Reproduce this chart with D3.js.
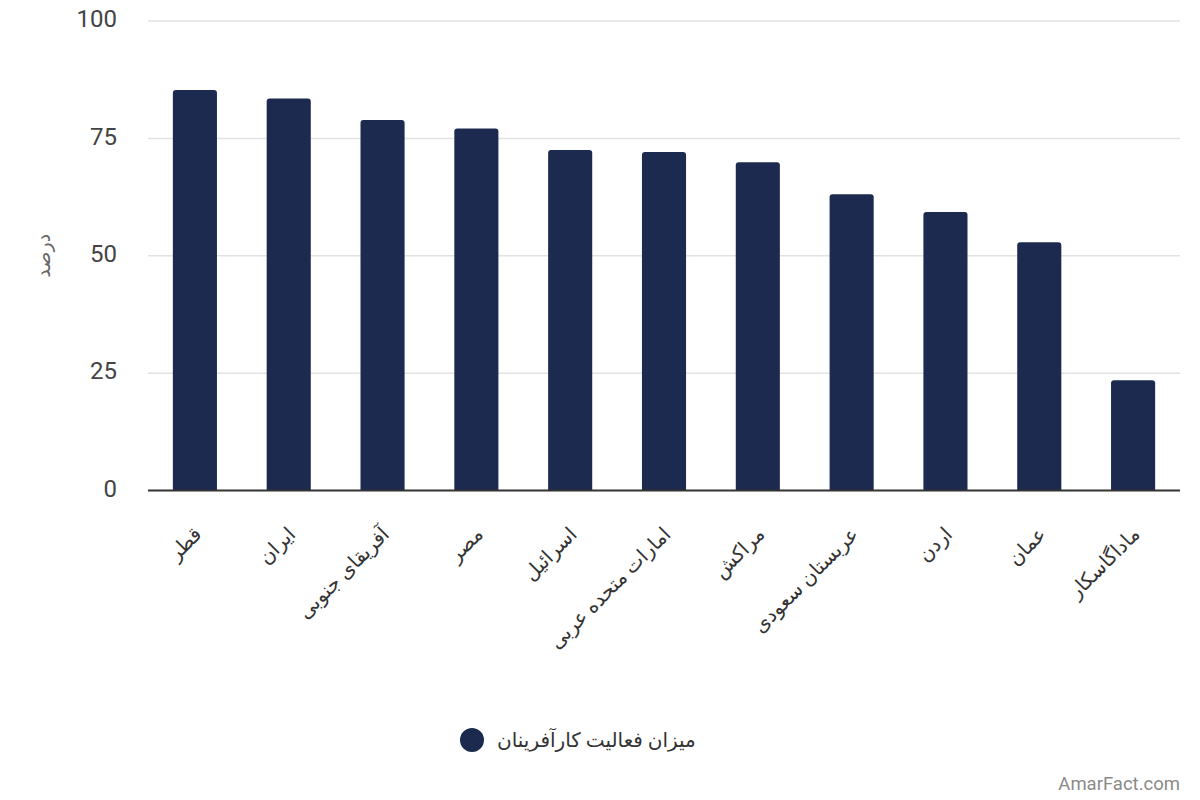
<!DOCTYPE html>
<html>
<head>
<meta charset="utf-8">
<script src="https://cdn.jsdelivr.net/npm/d3@7"></script>
<style>
  body { margin: 0; background: #fff; }
  svg text { font-family: Roboto, "DejaVu Sans", sans-serif; }
</style>
</head>
<body>
<div id="chart"></div>
<script>
// countries and entrepreneurial activity rate (%)
const countries = ["قطر", "ایران", "آفریقای جنوبی", "مصر", "اسرائیل", "امارات متحده عربی", "مراکش", "عربستان سعودی", "اردن", "عمان", "ماداگاسکار"];
const activity = [85.3, 83.5, 78.9, 77.1, 72.5, 72.1, 69.9, 63.1, 59.3, 52.9, 23.5];
const yTicks = [0, 25, 50, 75, 100];
const seriesName = "میزان فعالیت کارآفرینان";
const barColor = "#1b2a4e";

function drawChart() {
    const width = 1200, height = 800;
    const margin = { top: 21, right: 20, bottom: 310, left: 148 };

    const svg = d3.select("#chart").append("svg")
        .attr("width", width)
        .attr("height", height);

    const x = d3.scaleBand()
        .domain(countries)
        .range([margin.left, width - margin.right])
        .paddingInner(0.53)
        .paddingOuter(0.265);

    const y = d3.scaleLinear()
        .domain([0, 100])
        .range([height - margin.bottom + 0.5, margin.top]);

    // gridlines
    svg.append("g")
        .selectAll("line")
        .data(yTicks.filter(t => t > 0))
        .join("line")
        .attr("x1", margin.left)
        .attr("x2", width - margin.right)
        .attr("y1", d => y(d))
        .attr("y2", d => y(d))
        .attr("stroke", "#e2e2e2")
        .attr("stroke-width", 1.5);

    // y tick labels
    const yAxis = svg.append("g")
        .attr("transform", `translate(${margin.left - 31},-2)`)
        .call(d3.axisLeft(y).tickValues(yTicks).tickSize(0).tickPadding(0));
    yAxis.select(".domain").remove();
    yAxis.selectAll("text")
        .attr("font-size", 24)
        .attr("fill", "#444")
        .attr("font-family", "Roboto, sans-serif");

    // y axis title
    svg.append("text")
        .attr("transform", `translate(50,${(y(0) + y(100)) / 2}) rotate(-90)`)
        .attr("text-anchor", "middle")
        .attr("font-size", 19)
        .attr("fill", "#666")
        .text("درصد");

    // bars with rounded tops
    const r = 3;
    svg.append("g")
        .selectAll("path")
        .data(countries.map((c, i) => ({ c, v: activity[i] })))
        .join("path")
        .attr("fill", barColor)
        .attr("d", d => {
            const x0 = x(d.c), w = x.bandwidth();
            const y0 = y(d.v), y1 = y(0);
            return `M${x0},${y1}V${y0 + r}Q${x0},${y0} ${x0 + r},${y0}H${x0 + w - r}Q${x0 + w},${y0} ${x0 + w},${y0 + r}V${y1}Z`;
        });

    // baseline
    svg.append("line")
        .attr("x1", margin.left)
        .attr("x2", width - margin.right)
        .attr("y1", y(0))
        .attr("y2", y(0))
        .attr("stroke", "#333")
        .attr("stroke-width", 2);

    // x labels
    const xAxis = svg.append("g")
        .attr("transform", `translate(0,${y(0)})`)
        .call(d3.axisBottom(x).tickSize(0).tickPadding(0));
    xAxis.select(".domain").remove();
    xAxis.selectAll("text")
        .attr("font-size", 20)
        .attr("fill", "#333")
        .attr("text-anchor", "end")
        .attr("dy", "0.35em")
        .attr("transform", "translate(3,40) rotate(-45)");

    // legend
    const legend = svg.append("g").attr("transform", "translate(472,740)");
    legend.append("circle").attr("r", 12).attr("fill", barColor);
    legend.append("text")
        .attr("x", 25)
        .attr("y", 7)
        .attr("font-size", 20)
        .attr("fill", "#333")
        .text(seriesName);

    // watermark
    svg.append("text")
        .attr("x", width - 20)
        .attr("y", 790)
        .attr("text-anchor", "end")
        .attr("font-size", 18.5)
        .attr("fill", "#8a8a8a")
        .text("AmarFact.com");
}

drawChart();
</script>
</body>
</html>
